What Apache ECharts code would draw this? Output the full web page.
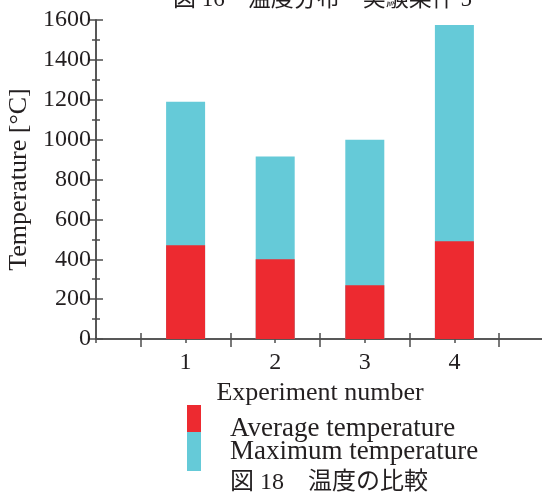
<!DOCTYPE html>
<html>
<head>
<meta charset="utf-8">
<script src="https://cdn.jsdelivr.net/npm/echarts@6/dist/echarts.min.js"></script>
<style>html,body{margin:0;padding:0;background:#fff}#c{width:542px;height:495px}</style>
</head>
<body>
<div id="c"></div>
<script>
var experiments = [1, 2, 3, 4];
var maxTemps = [1190, 915, 1000, 1575];
var avgTemps = [470, 400, 270, 490];
var yTicks = [0, 200, 400, 600, 800, 1000, 1200, 1400, 1600];
var topTitle = '図 16　温度分布　実験条件 5';
var caption = '図 18　温度の比較';

var SERIF = 'Liberation Serif';
var MIX = '"Liberation Serif", "Noto Sans CJK JP"';
var TXT = '#231f20';
var AX = '#4d4d4d';
var RED = '#ed2a30';
var CYAN = '#65cad8';

var chart = echarts.init(document.getElementById('c'), null, {renderer: 'canvas'});

function pairs(vals) { return experiments.map(function (e, i) { return [e, vals[i]]; }); }

var axLine = {show: true, lineStyle: {color: AX, width: 1.5}};
chart.setOption({
  animation: false,
  backgroundColor: '#fff',
  title: [
    {text: topTitle, left: 173, top: -12, padding: 0,
     textStyle: {fontFamily: MIX, fontSize: 23, fontWeight: 'normal', color: TXT}},
    {text: caption, left: 230, top: 471, padding: 0,
     textStyle: {fontFamily: MIX, fontSize: 24, fontWeight: 'normal', color: TXT}}
  ],
  legend: [
    {data: ['Average temperature'], orient: 'vertical', left: 187, top: 395, padding: 0,
     itemWidth: 14, itemHeight: 27, itemGap: 0, icon: 'rect',
     formatter: function (n) { return '\n' + n; },
     textStyle: {fontFamily: SERIF, fontSize: 27, lineHeight: 20, color: TXT, padding: [0, 0, 0, 24]}},
    {data: ['Maximum temperature'], orient: 'vertical', left: 187, top: 432, padding: 0,
     itemWidth: 14, itemHeight: 39, itemGap: 0, icon: 'rect',
     textStyle: {fontFamily: SERIF, fontSize: 27, color: TXT, padding: [0, 0, 0, 24]}}
  ],
  grid: {left: 96, right: -2, top: 20, bottom: 156, containLabel: false, outerBoundsMode: 'none'},
  xAxis: [
    {type: 'value', position: 'bottom', min: 0, max: 5, interval: 1,
     name: 'Experiment number', nameLocation: 'middle', nameGap: 28,
     nameTextStyle: {fontFamily: SERIF, fontSize: 26, color: TXT},
     axisLine: axLine,
     axisTick: {show: true, inside: true, length: 2, lineStyle: {color: AX, width: 1.5}},
     minorTick: {show: true, splitNumber: 2, length: 6, lineStyle: {color: AX, width: 1.5}},
     axisLabel: {margin: 12, fontFamily: SERIF, fontSize: 24, color: TXT,
       formatter: function (v) { return experiments.indexOf(v) >= 0 ? String(v) : ''; }},
     splitLine: {show: false}, minorSplitLine: {show: false}},
    {type: 'value', position: 'top', min: 0, max: 5, interval: 1,
     axisLine: axLine,
     axisTick: {show: true, inside: true, length: 4, lineStyle: {color: AX, width: 1.5}},
     minorTick: {show: true, splitNumber: 2, length: 8, lineStyle: {color: AX, width: 1.5}},
     axisLabel: {show: false}, splitLine: {show: false}}
  ],
  yAxis: [
    {type: 'value', position: 'left', min: yTicks[0], max: yTicks[yTicks.length - 1], interval: 200,
     name: 'Temperature [\u00B0C]', nameLocation: 'middle', nameGap: 57,
     nameTextStyle: {fontFamily: SERIF, fontSize: 26, color: TXT},
     axisLine: axLine,
     axisTick: {show: true, inside: true, length: 7, lineStyle: {color: AX, width: 1.5}},
     minorTick: {show: true, splitNumber: 2, length: 4, lineStyle: {color: AX, width: 1.5}},
     axisLabel: {margin: 5, fontFamily: SERIF, fontSize: 24, color: TXT,
       formatter: function (v) { return String(v); }},
     splitLine: {show: false}},
    {type: 'value', position: 'right', min: yTicks[0], max: yTicks[yTicks.length - 1], interval: 200,
     axisLine: axLine,
     axisTick: {show: true, inside: true, length: 7, lineStyle: {color: AX, width: 1.5}},
     minorTick: {show: true, splitNumber: 2, length: 4, lineStyle: {color: AX, width: 1.5}},
     axisLabel: {show: false}, splitLine: {show: false}}
  ],
  series: [
    {name: 'Maximum temperature', type: 'bar', xAxisIndex: 0, yAxisIndex: 0,
     barWidth: 39, itemStyle: {color: CYAN}, data: pairs(maxTemps), z: 2},
    {name: 'Average temperature', type: 'bar', xAxisIndex: 0, yAxisIndex: 0,
     barWidth: 39, barGap: '-100%', itemStyle: {color: RED}, data: pairs(avgTemps), z: 3}
  ]
});
</script>
</body>
</html>
